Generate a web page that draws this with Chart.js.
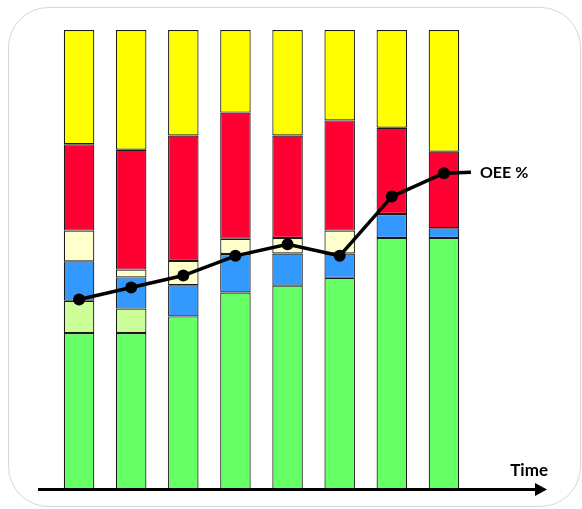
<!DOCTYPE html>
<html>
<head>
<meta charset="utf-8">
<style>
  html, body { margin: 0; padding: 0; background: #ffffff; }
  #wrap { width: 582px; height: 509px; }
</style>
<script src="https://cdn.jsdelivr.net/npm/chart.js@4/dist/chart.umd.min.js"></script>
</head>
<body>
<div id="wrap"><canvas id="oee" width="582" height="509"></canvas></div>
<script>
// Time periods along the x axis (unlabelled on the chart)
const periods = ['T1', 'T2', 'T3', 'T4', 'T5', 'T6', 'T7', 'T8'];

// Stacked loss breakdown, % of planned time (bottom to top)
const productive   = [34.0, 34.0, 37.6, 42.8, 44.3, 46.0, 54.7, 54.7];
const qualityLoss  = [7.0, 5.3, null, null, null, null, null, null];
const speedLoss    = [8.6, 6.8, 6.8, 8.4, 7.0, 5.3, 5.2, 2.1];
const minorStops   = [6.7, 1.7, 5.3, 3.3, 3.4, 5.0, null, null];
const downtime     = [18.8, 26.1, 27.3, 27.5, 22.3, 24.0, 18.8, 16.7];
const unplanned    = [24.9, 26.1, 23.0, 18.0, 23.0, 19.7, 21.3, 26.5];

// Overall equipment effectiveness trend
const oee = [41.3, 43.9, 46.5, 50.8, 53.3, 50.8, 63.7, 68.8];

const frameAndAxis = {
  id: 'frameAndAxis',
  beforeDraw(chart) {
    const ctx = chart.ctx;
    ctx.save();
    ctx.fillStyle = '#ffffff';
    ctx.fillRect(0, 0, chart.width, chart.height);
    ctx.strokeStyle = '#d6d6d6';
    ctx.lineWidth = 1;
    ctx.beginPath();
    ctx.roundRect(8.5, 7.5, 572, 499, 40);
    ctx.stroke();
    ctx.restore();
  },
  afterDatasetsDraw(chart) {
    const ctx = chart.ctx;
    const area = chart.chartArea;
    ctx.save();
    // time axis with arrow head
    const y = area.bottom + 0.5;
    const x0 = area.left - 15;
    const tip = area.right + 77;
    ctx.strokeStyle = '#000';
    ctx.lineWidth = 3;
    ctx.beginPath();
    ctx.moveTo(x0, y);
    ctx.lineTo(tip - 10, y);
    ctx.stroke();
    ctx.fillStyle = '#000';
    ctx.beginPath();
    ctx.moveTo(tip, y);
    ctx.lineTo(tip - 12, y - 6.5);
    ctx.lineTo(tip - 12, y + 6.5);
    ctx.closePath();
    ctx.fill();
    ctx.font = 'bold 17px Lato, "Open Sans", sans-serif';
    ctx.textAlign = 'right';
    ctx.textBaseline = 'alphabetic';
    ctx.fillText('Time', tip + 1, y - 14);

    // OEE line lead-out and label
    const meta = chart.getDatasetMeta(chart.data.datasets.length - 1);
    const last = meta.data[meta.data.length - 1];
    ctx.lineWidth = 3.5;
    ctx.beginPath();
    ctx.moveTo(last.x, last.y);
    ctx.lineTo(last.x + 27, last.y - 1);
    ctx.stroke();
    ctx.font = 'bold 16px Lato, "Open Sans", sans-serif';
    ctx.textAlign = 'left';
    ctx.textBaseline = 'middle';
    ctx.fillText('OEE %', last.x + 36, last.y);
    ctx.restore();
  }
};

function barSet(label, data, color) {
  return {
    type: 'bar',
    label: label,
    data: data,
    backgroundColor: color,
    borderColor: '#1a1a1a',
    borderWidth: 1.2,
    borderSkipped: false,
    stack: 'losses',
    order: 1,
    categoryPercentage: 1.0,
    barPercentage: 0.585
  };
}

new Chart(document.getElementById('oee'), {
  data: {
    labels: periods,
    datasets: [
      barSet('Productive', productive, '#66ff66'),
      barSet('Quality loss', qualityLoss, '#ccff99'),
      barSet('Speed loss', speedLoss, '#3399ff'),
      barSet('Minor stops', minorStops, '#ffffcc'),
      barSet('Downtime', downtime, '#ff0033'),
      barSet('Unplanned', unplanned, '#ffff00'),
      {
        type: 'line',
        label: 'OEE %',
        data: oee,
        stack: 'oee',
        order: 0,
        borderColor: '#000000',
        borderWidth: 3.5,
        pointRadius: 6,
        pointBackgroundColor: '#000000',
        pointBorderColor: '#000000',
        pointBorderWidth: 0,
        tension: 0
      }
    ]
  },
  options: {
    responsive: false,
    animation: false,
    layout: { padding: { left: 53, top: 30, right: 112, bottom: 20 } },
    plugins: {
      legend: { display: false },
      tooltip: { enabled: false }
    },
    scales: {
      x: { display: false, stacked: true },
      y: { display: false, stacked: true, min: 0, max: 100 }
    }
  },
  plugins: [frameAndAxis]
});
</script>
</body>
</html>
